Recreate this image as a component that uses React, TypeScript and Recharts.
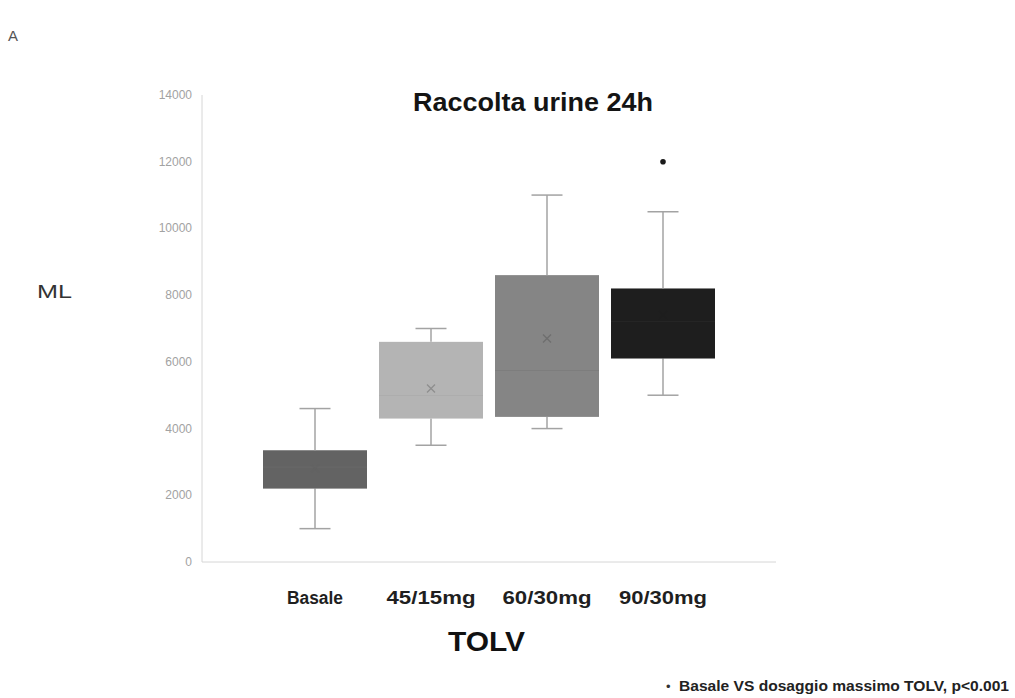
import React from "react";
import { ComposedChart, Bar, XAxis, YAxis, Scatter } from "recharts";

const categories = ["Basale", "45/15mg", "60/30mg", "90/30mg"];
const mins = [1000, 3500, 4000, 5000];
const q1s = [2200, 4300, 4350, 6100];
const medians = [2850, 5000, 5750, 7200];
const q3s = [3350, 6600, 8600, 8200];
const maxs = [4600, 7000, 11000, 10500];
const means = [2800, 5200, 6700, 7400];
const outliers: (number | null)[] = [null, null, null, 12000];
const yTicks = [0, 2000, 4000, 6000, 8000, 10000, 12000, 14000];

const boxColors = ["#636363", "#b4b4b4", "#858585", "#1e1e1e"];
const medianColors = ["#6a6a6a", "#a3a3a3", "#727272", "#1e1e1e"];
const meanColors = ["#636363", "#8e8e8e", "#6e6e6e", "#1e1e1e"];
const labelWidths = [56, 89, 89, 88];

const data = categories.map((name, i) => ({
  name,
  idx: i,
  base: mins[i],
  wLow: q1s[i] - mins[i],
  boxLow: medians[i] - q1s[i],
  boxHigh: q3s[i] - medians[i],
  wHigh: maxs[i] - q3s[i],
  mean: means[i],
  outlier: outliers[i],
}));

const WHISKER = "#a3a3a3";
const CAP = 31;

const LowWhisker = (p: any) => {
  const { x, y, width, height } = p;
  const cx = x + width / 2;
  return (
    <g>
      <line x1={cx} x2={cx} y1={y} y2={y + height} stroke={WHISKER} strokeWidth={1.5} />
      <line x1={cx - CAP / 2} x2={cx + CAP / 2} y1={y + height} y2={y + height} stroke={WHISKER} strokeWidth={1.5} />
    </g>
  );
};

const HighWhisker = (p: any) => {
  const { x, y, width, height } = p;
  const cx = x + width / 2;
  return (
    <g>
      <line x1={cx} x2={cx} y1={y} y2={y + height} stroke={WHISKER} strokeWidth={1.5} />
      <line x1={cx - CAP / 2} x2={cx + CAP / 2} y1={y} y2={y} stroke={WHISKER} strokeWidth={1.5} />
    </g>
  );
};

const BoxLow = (p: any) => {
  const { x, y, width, height, payload } = p;
  const i = payload.idx;
  return (
    <g>
      <rect x={x} y={y} width={width} height={height} fill={boxColors[i]} />
      <line x1={x} x2={x + width} y1={y} y2={y} stroke={medianColors[i]} strokeWidth={1.2} />
    </g>
  );
};

const BoxHigh = (p: any) => {
  const { x, y, width, height, payload } = p;
  return <rect x={x} y={y} width={width} height={height} fill={boxColors[payload.idx]} />;
};

const MeanShape = (p: any) => {
  const { cx, cy, payload } = p;
  if (cx == null || cy == null || isNaN(cx) || isNaN(cy)) return null;
  const s = 4;
  const c = meanColors[payload.idx];
  return (
    <g>
      <line x1={cx - s} x2={cx + s} y1={cy - s} y2={cy + s} stroke={c} strokeWidth={1.2} />
      <line x1={cx - s} x2={cx + s} y1={cy + s} y2={cy - s} stroke={c} strokeWidth={1.2} />
    </g>
  );
};

const OutlierShape = (p: any) => {
  const { cx, cy, payload } = p;
  if (payload.outlier == null || isNaN(cx) || isNaN(cy)) return null;
  return <circle cx={cx} cy={cy} r={2.8} fill="#1a1a1a" />;
};

const XTick = (p: any) => {
  const { x, y, payload, index } = p;
  return (
    <text
      x={x}
      y={y}
      dy={42}
      textAnchor="middle"
      fontFamily="'Liberation Sans', Arial, sans-serif"
      fontWeight="bold"
      fontSize={18}
      fill="#1f1f1f"
      textLength={labelWidths[index]}
      lengthAdjust="spacingAndGlyphs"
    >
      {payload.value}
    </text>
  );
};

const YTick = (p: any) => {
  const { x, y, payload } = p;
  return (
    <text
      x={x}
      y={y}
      dy={4}
      textAnchor="end"
      fontFamily="'Liberation Sans', Arial, sans-serif"
      fontSize={12}
      fill="#a2a2a2"
    >
      {payload.value}
    </text>
  );
};

export default function App() {
  return (
    <div style={{ position: "relative", width: 1015, height: 698, background: "#fff" }}>
      <style>{`body{margin:0;}`}</style>
      <ComposedChart
        width={1015}
        height={698}
        data={data}
        margin={{ top: 95, right: 239, bottom: 96, left: 0 }}
        barSize={104}
      >
        <XAxis
          dataKey="name"
          type="category"
          padding={{ left: 55, right: 55 }}
          height={40}
          tickLine={false}
          tickSize={0}
          tickMargin={0}
          stroke="#d6d6d6"
          tick={<XTick />}
          interval={0}
        />
        <YAxis
          domain={[0, 14000]}
          ticks={yTicks}
          width={202}
          tickLine={false}
          tickSize={0}
          tickMargin={10}
          stroke="#d6d6d6"
          tick={<YTick />}
          interval={0}
        />
        <Bar dataKey="base" stackId="a" fill="transparent" isAnimationActive={false} />
        <Bar dataKey="wLow" stackId="a" shape={<LowWhisker />} isAnimationActive={false} />
        <Bar dataKey="boxLow" stackId="a" shape={<BoxLow />} isAnimationActive={false} />
        <Bar dataKey="boxHigh" stackId="a" shape={<BoxHigh />} isAnimationActive={false} />
        <Bar dataKey="wHigh" stackId="a" shape={<HighWhisker />} isAnimationActive={false} />
        <Scatter dataKey="mean" shape={<MeanShape />} isAnimationActive={false} />
        <Scatter dataKey="outlier" shape={<OutlierShape />} isAnimationActive={false} />
      </ComposedChart>
      <svg
        width={1015}
        height={698}
        style={{ position: "absolute", left: 0, top: 0, pointerEvents: "none" }}
      >
        <text x={8} y={41} fontFamily="'Liberation Sans', Arial, sans-serif" fontSize={15} fill="#555">
          A
        </text>
        <text
          x={413}
          y={111}
          fontFamily="'Liberation Sans', Arial, sans-serif"
          fontWeight="bold"
          fontSize={25}
          fill="#141414"
          textLength={240}
          lengthAdjust="spacingAndGlyphs"
        >
          Raccolta urine 24h
        </text>
        <text
          x={37}
          y={298}
          fontFamily="'Liberation Sans', Arial, sans-serif"
          fontSize={18}
          fill="#333"
          textLength={35}
          lengthAdjust="spacingAndGlyphs"
        >
          ML
        </text>
        <text
          x={448}
          y={651}
          fontFamily="'Liberation Sans', Arial, sans-serif"
          fontWeight="bold"
          fontSize={27}
          fill="#111"
          textLength={77}
          lengthAdjust="spacingAndGlyphs"
        >
          TOLV
        </text>
        <text x={666} y={691} fontFamily="'Liberation Sans', Arial, sans-serif" fontSize={13} fill="#333">
          •
        </text>
        <text
          x={679}
          y={691}
          fontFamily="'Liberation Sans', Arial, sans-serif"
          fontWeight="bold"
          fontSize={15}
          fill="#222"
          textLength={330}
          lengthAdjust="spacingAndGlyphs"
        >
          Basale VS dosaggio massimo TOLV, p&lt;0.001
        </text>
      </svg>
    </div>
  );
}
